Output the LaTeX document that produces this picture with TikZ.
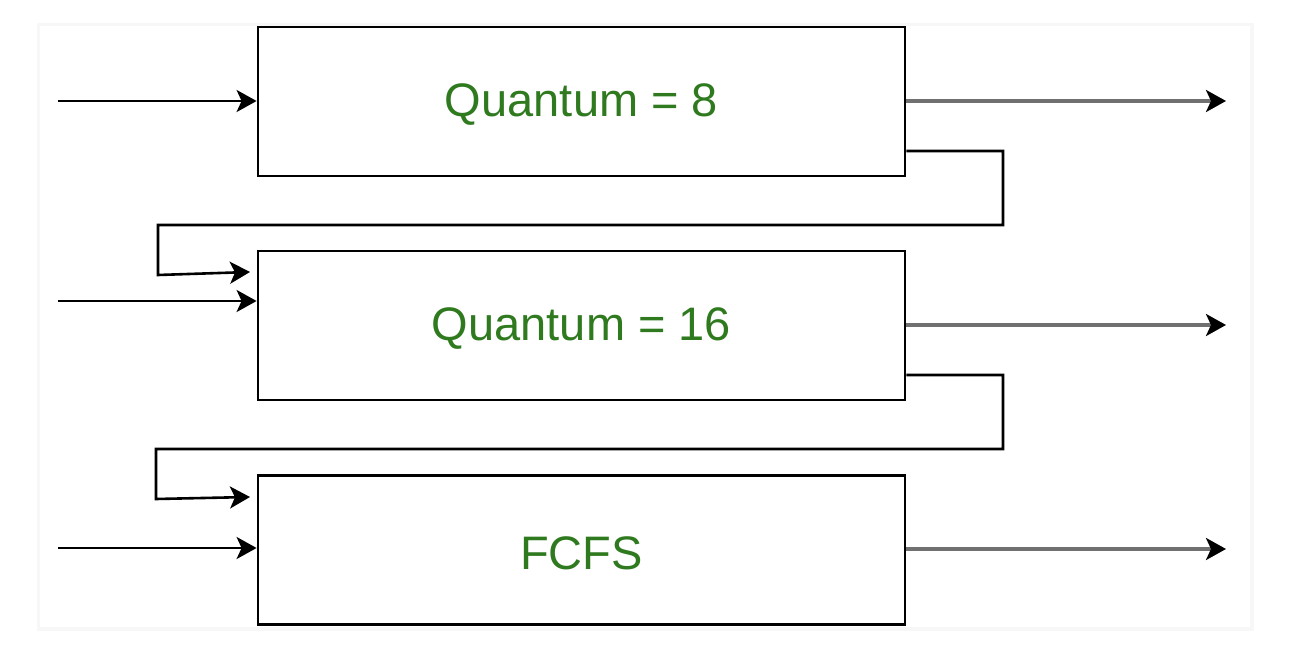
\documentclass[tikz,border=0pt]{standalone}
\usepackage{fontspec}
\setmainfont{Liberation Sans}
\usetikzlibrary{arrows.meta}
\definecolor{txtgreen}{HTML}{2F7A1F}
\definecolor{outgray}{HTML}{707070}
\newcommand{\lowr}[1]{\raisebox{-1.5pt}[\height][\depth]{#1}}
\begin{document}
\begin{tikzpicture}[x=0.5pt,y=-0.5pt,
  queue/.style={draw=black,line width=1.4pt,minimum width=323.5pt,minimum height=74.5pt,inner sep=0pt,
    text=txtgreen,font=\fontsize{23.5}{28}\selectfont},
  tip/.style={-{Stealth[length=10pt,width=11pt,inset=2.5pt]}},
  inarrow/.style={draw=black,line width=1.3pt,tip},
  outarrow/.style={draw=outgray,line width=1.6pt,-{Stealth[length=10pt,width=11pt,inset=2.5pt,color=black,fill=black]}},
  fb/.style={draw=black,line width=1.3pt,tip}]
\useasboundingbox (0,0) rectangle (1316,656);
\fill[black!3] (37,23) rectangle (1254,631);
\fill[white] (40,26) rectangle (1250,627);
% boxes
\node[queue] (q1) at (581.5,101.5) {\lowr{Quantum = 8}};
\node[queue] (q2) at (581.5,325.5) {\lowr{Quantum = 16}};
\node[queue] (q3) at (581.5,550) {\lowr{FCFS}};
% inputs
\coordinate (in1) at (58,101);
\coordinate (in2) at (58,301);
\coordinate (in3) at (58,548);
\draw[inarrow] (in1) -- (in1 -| q1.west);
\draw[inarrow] (in2) -- (in2 -| q2.west);
\draw[inarrow] (in3) -- (in3 -| q3.west);
% outputs
\coordinate (out1) at (1226,101);
\coordinate (out2) at (1226,325);
\coordinate (out3) at (1226,549);
\draw[outarrow] (out1 -| q1.east) -- (out1);
\draw[outarrow] (out2 -| q2.east) -- (out2);
\draw[outarrow] (out3 -| q3.east) -- (out3);
% feedback 1 -> 2
\coordinate (f1s) at (905,151);
\coordinate (f1t) at (250,272);
\draw[fb] (f1s -| q1.east) -- (1003,151) -- (1003,225) -- (158,225) -- (158,275) -- (f1t);
% feedback 2 -> 3
\coordinate (f2s) at (905,375);
\coordinate (f2t) at (250,497);
\draw[fb] (f2s -| q2.east) -- (1003,375) -- (1003,449) -- (156,449) -- (156,499) -- (f2t);
\end{tikzpicture}
\end{document}
